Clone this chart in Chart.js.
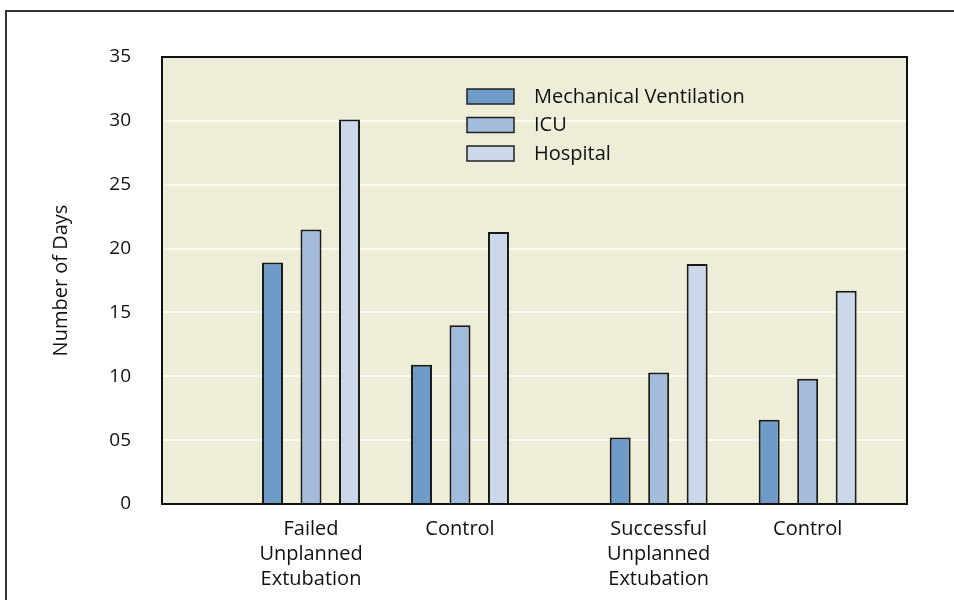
<!DOCTYPE html>
<html>
<head>
<meta charset="utf-8">
<script src="https://cdn.jsdelivr.net/npm/chart.js@4"></script>
<style>
  html, body { margin: 0; padding: 0; background: #fff; }
  #wrap { width: 954px; height: 600px; position: relative; }
</style>
</head>
<body>
<div id="wrap"><canvas id="barChart"></canvas></div>
<script>
// groups along the x axis (uneven spacing as in the original figure)
const groupLabels = [
    ["Failed", "Unplanned", "Extubation"],
    ["Control"],
    ["Successful", "Unplanned", "Extubation"],
    ["Control"]
];
const groupX = [1.5, 3, 5, 6.5];

const seriesNames = ["Mechanical Ventilation", "ICU", "Hospital"];
const ventilationDays = [18.9, 10.9, 5.2, 6.6];
const icuDays = [21.5, 14.0, 10.3, 9.8];
const hospitalDays = [30.1, 21.3, 18.8, 16.7];

const yTicks = [0, 5, 10, 15, 20, 25, 30, 35];

const seriesColors = ["#6e9bc8", "#a3bcdc", "#cad8e9"];
const FONT = "'Open Sans', sans-serif";
const TEXT = "#111";

function toPoints(values) {
    return values.map((v, i) => ({ x: groupX[i], y: v }));
}

// fond beige de la zone de tracé, cadre et légende
const framePlugin = {
    id: "framePlugin",
    beforeDraw(chart) {
        const { ctx, chartArea: a } = chart;
        ctx.save();
        ctx.fillStyle = "#eeedd8";
        ctx.fillRect(a.left, a.top, a.right - a.left, a.bottom - a.top);
        ctx.restore();
    },
    afterDatasetsDraw(chart) {
        const { ctx, chartArea: a } = chart;
        ctx.save();
        ctx.strokeStyle = "#111";
        ctx.lineWidth = 2;
        ctx.strokeRect(a.left, a.top, a.right - a.left, a.bottom - a.top);

        // légende
        const x0 = a.left + 305;
        const y0 = a.top + 32;
        ctx.font = "20px " + FONT;
        ctx.textBaseline = "middle";
        chart.data.datasets.forEach((ds, i) => {
            const y = y0 + i * 28.5;
            ctx.fillStyle = ds.backgroundColor;
            ctx.fillRect(x0, y, 47, 15);
            ctx.strokeStyle = "#222";
            ctx.lineWidth = 1.5;
            ctx.strokeRect(x0, y, 47, 15);
            ctx.fillStyle = TEXT;
            ctx.fillText(ds.label, x0 + 67, y + 8);
        });

        // cadre extérieur
        ctx.strokeStyle = "#333";
        ctx.lineWidth = 2;
        ctx.strokeRect(6, 11, 1200, 1000);
        ctx.restore();
    }
};

const ctx = document.getElementById("barChart").getContext("2d");

new Chart(ctx, {
    type: "bar",
    data: {
        datasets: [
            { label: seriesNames[0], data: toPoints(ventilationDays), backgroundColor: seriesColors[0] },
            { label: seriesNames[1], data: toPoints(icuDays), backgroundColor: seriesColors[1] },
            { label: seriesNames[2], data: toPoints(hospitalDays), backgroundColor: seriesColors[2] }
        ]
    },
    options: {
        responsive: true,
        maintainAspectRatio: false,
        animation: false,
        layout: { padding: { left: 0, top: 57, right: 47, bottom: 0 } },
        datasets: {
            bar: {
                borderColor: "#1a1a1a",
                borderWidth: 2,
                categoryPercentage: 0.775,
                barPercentage: 0.545
            }
        },
        plugins: {
            legend: { display: false },
            tooltip: { enabled: false }
        },
        scales: {
            x: {
                type: "linear",
                offset: false,
                min: 0,
                max: 7.5,
                afterBuildTicks: (scale) => {
                    scale.ticks = groupX.map(v => ({ value: v }));
                },
                afterFit: (scale) => { scale.height = 96; },
                grid: { display: false, offset: false },
                border: { display: false },
                ticks: {
                    autoSkip: false,
                    maxRotation: 0,
                    padding: 5,
                    color: TEXT,
                    font: { family: FONT, size: 20, lineHeight: 1.25 },
                    callback: (value, index) => groupLabels[index]
                }
            },
            y: {
                min: 0,
                max: 35,
                afterBuildTicks: (scale) => {
                    scale.ticks = yTicks.map(v => ({ value: v }));
                },
                afterFit: (scale) => { scale.width = 162; },
                grid: { color: "#fbfaf1", lineWidth: 2, drawTicks: false },
                border: { display: false },
                ticks: {
                    padding: 31,
                    color: TEXT,
                    font: { family: FONT, size: 19 },
                    callback: (v) => v === 0 ? "0" : String(v).padStart(2, "0")
                },
                title: {
                    display: true,
                    text: "Number of Days",
                    color: TEXT,
                    padding: { top: 49, bottom: 0 },
                    font: { family: FONT, size: 20 }
                }
            }
        }
    },
    plugins: [framePlugin]
});
</script>
</body>
</html>
